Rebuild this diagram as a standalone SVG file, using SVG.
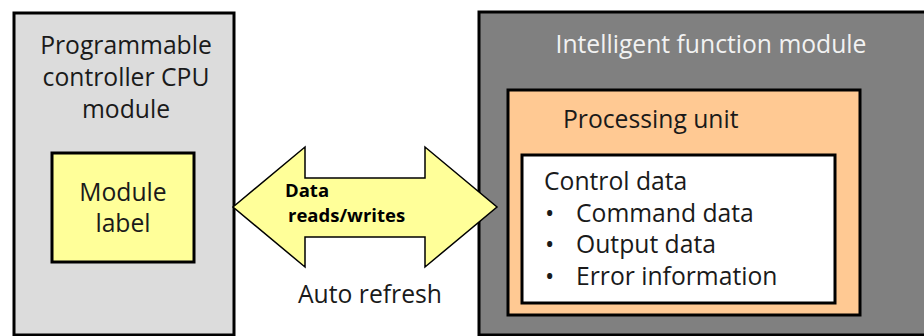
<svg xmlns="http://www.w3.org/2000/svg" width="924" height="336" viewBox="0 0 924 336">
<style>
.box{stroke:#000;stroke-width:3}
.t{font-family:"Open Sans","Noto Sans","Liberation Sans",sans-serif;font-size:24.7px;fill:#1a1a1a}
.b{font-family:"Open Sans","Noto Sans","Liberation Sans",sans-serif;font-size:18.5px;font-weight:bold;fill:#000}
</style>
<rect width="924" height="336" fill="#fff"/>
<g id="cpu">
<rect class="box" x="14" y="13" width="220" height="322" fill="#dcdcdc"/>
<text class="t" text-anchor="middle"><tspan x="126" y="54">Programmable</tspan><tspan x="126" y="86">controller CPU</tspan><tspan x="126" y="118">module</tspan></text>
</g>
<g id="module-label">
<rect class="box" x="52" y="153" width="142" height="109" fill="#ffff99"/>
<text class="t" text-anchor="middle"><tspan x="123" y="201">Module</tspan><tspan x="123" y="232">label</tspan></text>
</g>
<g id="ifm">
<rect class="box" x="479" y="12" width="450" height="323" fill="#808080"/>
<text class="t" x="711" y="53" text-anchor="middle" style="fill:#f2f2f2">Intelligent function module</text>
</g>
<g id="processing">
<rect class="box" x="508" y="90" width="352" height="225" fill="#ffc993"/>
<text class="t" x="563" y="128">Processing unit</text>
</g>
<g id="control-data">
<rect class="box" x="522" y="155" width="313" height="148" fill="#fff"/>
<text class="t"><tspan x="544" y="190">Control data</tspan><tspan x="545" y="222">•</tspan><tspan x="576" y="222">Command data</tspan><tspan x="545" y="253">•</tspan><tspan x="576" y="253">Output data</tspan><tspan x="545" y="285">•</tspan><tspan x="576" y="285">Error information</tspan></text>
</g>
<g id="connectors">
<polygon points="233,207 305,147 305,178 425,178 425,147 497,207 425,267 425,237 305,237 305,267" fill="#ffff99" stroke="#000" stroke-width="1.5" stroke-linejoin="miter"/>
<text class="b"><tspan x="285" y="197">Data</tspan><tspan x="288" y="222">reads/writes</tspan></text>
<text class="t" x="298" y="303">Auto refresh</text>
</g>
</svg>
